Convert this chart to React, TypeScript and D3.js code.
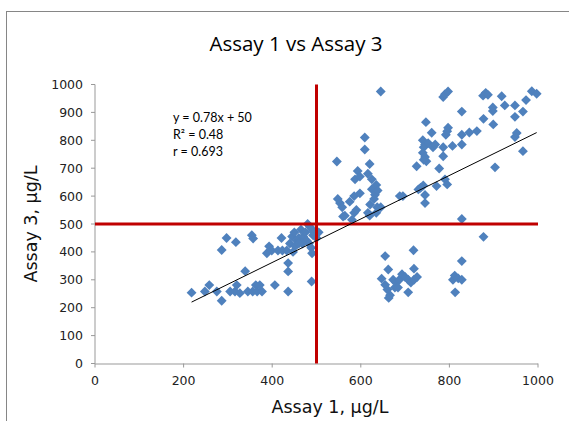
import React from "react";
import * as d3 from "d3";

const pts: [number, number][] = [
  [218,254],[248,258],[258,281],[275,258],[286,225],[297,450],[286,407],[318,435],[305,258],[316,258],
  [339,331],[320,281],[327,252],[345,258],[356,258],[366,258],[377,258],[354,460],[357,448],[363,281],
  [372,281],[388,395],[393,420],[399,405],[406,281],[413,405],[423,405],[433,405],[421,450],[436,330],
  [436,360],[436,258],[440,430],[445,455],[450,470],[456,440],[447,400],[452,420],[460,450],[465,480],
  [470,455],[475,470],[480,500],[485,490],[490,480],[492,460],[478,440],[483,430],[488,415],[490,395],
  [489,294],[495,470],[500,450],[505,470],[468,430],[460,430],
  [560,527],[546,724],[548,590],[553,575],[558,560],[564,530],[580,515],[585,540],[590,550],[575,580],
  [585,600],[598,610],[587,660],[593,690],[598,670],[609,810],[609,767],[616,680],[620,715],[625,625],
  [625,660],[632,605],[635,640],[638,620],[635,540],[645,560],[645,975],[616,540],[621,570],[620,530],
  [630,590],[637,560],
  [655,385],[719,406],[662,337],[647,304],[655,282],[660,265],[666,245],[663,235],[673,300],[680,290],
  [687,300],[693,320],[700,310],[707,300],[713,290],[720,300],[720,340],[727,310],[677,272],[684,272],
  [707,255],[828,518],[877,454],[828,367],[808,300],[812,315],[820,305],[828,300],[813,255],[745,575],
  [786,955],[790,965],[797,975],[876,960],[882,970],[887,963],[918,958],[986,976],[997,967],[828,903],
  [898,905],[898,918],[925,925],[948,925],[973,944],[966,903],[948,884],[747,865],[877,877],[899,857],
  [760,827],[792,820],[797,845],[795,832],[828,820],[845,828],[862,833],[740,800],[745,785],[742,775],
  [752,790],[763,775],[768,785],[786,775],[807,780],[828,785],[948,812],[952,826],[966,761],[740,755],
  [745,740],[748,725],[742,730],[786,743],[726,707],[777,699],[903,703],[730,624],[741,638],[735,630],
  [771,636],[790,660],[795,642],[745,604],[688,600],[695,600],
];

const xTicks = [0, 200, 400, 600, 800, 1000];
const yTicks = [0, 100, 200, 300, 400, 500, 600, 700, 800, 900, 1000];
const slope = 0.78;
const intercept = 50;
const threshold = 500;
const eqLines = ["y = 0.78x + 50", "R² = 0.48", "r = 0.693"];

export default function App() {
  const x = d3.scaleLinear().domain([0, 1000]).range([95, 538]);
  const y = d3.scaleLinear().domain([0, 1000]).range([363.5, 84.5]);
  const diamond = d3.symbol().type(d3.symbolDiamond2).size(62)();
  const xmin = d3.min(pts, (d) => d[0]) as number;
  const xmax = d3.max(pts, (d) => d[0]) as number;
  const font = "'DejaVu Sans', sans-serif";
  return (
    <svg width={569} height={421} style={{ position: "absolute", left: 0, top: 0, background: "#fff" }}>
      <rect x={6.5} y={11.5} width={600} height={430} fill="#fff" stroke="#868686" strokeWidth={1} />
      <text x={296} y={51} textAnchor="middle" fontFamily="'Open Sans', sans-serif" fontSize={20.5} fill="#000">
        Assay 1 vs Assay 3
      </text>
      {/* axes */}
      <line x1={x(0)} x2={x(0)} y1={y(1000)} y2={y(0)} stroke="#999" />
      <line x1={x(0)} x2={x(1000)} y1={y(0) + 0.5} y2={y(0) + 0.5} stroke="#999" />
      {yTicks.map((t) => (
        <g key={"y" + t}>
          <line x1={x(0) - 4} x2={x(0)} y1={y(t)} y2={y(t)} stroke="#999" />
          <text x={83} y={y(t) + 4.5} textAnchor="end" fontFamily={font} fontSize={12.5} fill="#222">
            {t}
          </text>
        </g>
      ))}
      {xTicks.map((t) => (
        <g key={"x" + t}>
          <line x1={x(t)} x2={x(t)} y1={y(0)} y2={y(0) + 4} stroke="#999" />
          <text x={x(t)} y={385} textAnchor="middle" fontFamily={font} fontSize={12.5} fill="#222">
            {t}
          </text>
        </g>
      ))}
      <text x={330} y={413} textAnchor="middle" fontFamily={font} fontSize={17.5} fill="#111">
        Assay 1, µg/L
      </text>
      <text
        transform={`translate(37,${y(500)}) rotate(-90)`}
        textAnchor="middle"
        fontFamily={font}
        fontSize={17.5}
        fill="#111"
      >
        Assay 3, µg/L
      </text>
      {/* points */}
      {pts.map((d, i) => (
        <path key={i} d={diamond} transform={`translate(${x(d[0])},${y(d[1])})`} fill="#4f81bd" />
      ))}
      {/* threshold lines */}
      <line x1={x(0)} x2={x(1000)} y1={y(threshold)} y2={y(threshold)} stroke="#c00000" strokeWidth={3} />
      <line x1={x(threshold)} x2={x(threshold)} y1={y(1000)} y2={y(0)} stroke="#c00000" strokeWidth={3} />
      {/* trendline */}
      <line
        x1={x(xmin)}
        y1={y(slope * xmin + intercept)}
        x2={x(xmax)}
        y2={y(slope * xmax + intercept)}
        stroke="#000"
        strokeWidth={1}
      />
      {eqLines.map((s, i) => (
        <text key={s} x={173} y={122 + i * 17} fontFamily="Lato, sans-serif" fontSize={12.5} fill="#000">
          {s}
        </text>
      ))}
    </svg>
  );
}
